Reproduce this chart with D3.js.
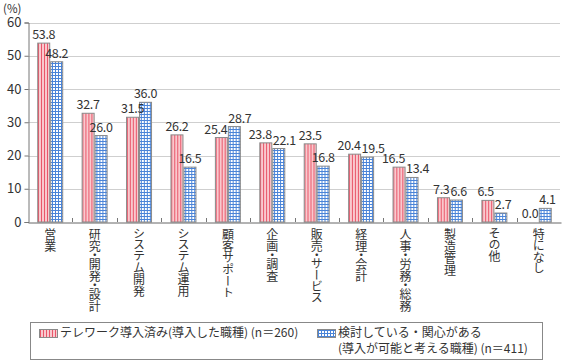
<!DOCTYPE html>
<html>
<head>
<meta charset="utf-8">
<script src="https://cdn.jsdelivr.net/npm/d3@7"></script>
<style>
  body { margin: 0; background: #fff; }
  text { font-family: "Noto Sans CJK JP", "Noto Sans", sans-serif; fill: #333; }
  .vlabel { writing-mode: vertical-rl; font-feature-settings: "vpal"; }
</style>
</head>
<body>
<div id="chart"></div>
<script>
// Data
const categories = ["営業", "研究・開発・設計", "システム開発", "システム運用", "顧客サポート", "企画・調査",
  "販売・サービス", "経理・会計", "人事・労務・総務", "製造管理", "その他", "特になし"];
const introduced = [53.8, 32.7, 31.5, 26.2, 25.4, 23.8, 23.5, 20.4, 16.5, 7.3, 6.5, 0.0];
const considering = [48.2, 26.0, 36.0, 16.5, 28.7, 22.1, 16.8, 19.5, 13.4, 6.6, 2.7, 4.1];
const yTicks = [0, 10, 20, 30, 40, 50, 60];
const seriesNames = ["introduced", "considering"];
const legendLabels = ["テレワーク導入済み(導入した職種) (n＝260)",
  ["検討している・関心がある", "(導入が可能と考える職種) (n＝411)"]];

const width = 564, height = 364;
const plot = { left: 28, right: 561, top: 22.5, bottom: 222 };

const svg = d3.select("#chart").append("svg")
    .attr("width", width)
    .attr("height", height);

// patterns for the two series
const defs = svg.append("defs");
const pRed = defs.append("pattern")
    .attr("id", "pat-red")
    .attr("patternUnits", "userSpaceOnUse")
    .attr("width", 3).attr("height", 3);
pRed.append("rect").attr("width", 3).attr("height", 3).attr("fill", "#f9c9ce");
pRed.append("rect").attr("x", 1).attr("width", 1).attr("height", 3).attr("fill", "#e9566a");

const pBlue = defs.append("pattern")
    .attr("id", "pat-blue")
    .attr("patternUnits", "userSpaceOnUse")
    .attr("width", 3).attr("height", 3);
pBlue.append("rect").attr("width", 3).attr("height", 3).attr("fill", "#4a84d8");
pBlue.append("rect").attr("x", 1).attr("y", 1).attr("width", 2).attr("height", 2).attr("fill", "#ffffff");

const color = d3.scaleOrdinal()
    .domain(seriesNames)
    .range(["url(#pat-red)", "url(#pat-blue)"]);

// scales
const x0 = d3.scaleBand()
    .domain(categories)
    .range([plot.left, plot.right])
    .padding(0);

const x1 = d3.scaleBand()
    .domain(seriesNames)
    .range([0, x0.bandwidth()])
    .paddingInner(0)
    .paddingOuter(0.71);

const y = d3.scaleLinear()
    .domain([0, 60])
    .range([plot.bottom, plot.top]);

// gridlines
svg.append("g")
    .selectAll("line")
    .data(yTicks.filter(d => d > 0))
    .enter().append("line")
    .attr("x1", plot.left)
    .attr("x2", plot.right - 1)
    .attr("y1", d => Math.round(y(d)) + 0.5)
    .attr("y2", d => Math.round(y(d)) + 0.5)
    .attr("stroke", "#cfcfcf")
    .attr("stroke-width", 1);

// y axis
const yAxis = svg.append("g")
    .attr("transform", "translate(" + (plot.left + 0.5) + ",0)")
    .call(d3.axisLeft(y).tickValues(yTicks).tickSize(4).tickPadding(3));
yAxis.select(".domain").attr("stroke", "#777");
yAxis.selectAll(".tick line").attr("stroke", "#777");
yAxis.selectAll(".tick text")
    .style("font-size", "13px")
    .attr("fill", "#333");

svg.append("text")
    .attr("x", 3)
    .attr("y", 13)
    .style("font-size", "11.5px")
    .text("(%)");

// bars
const rows = categories.map((c, i) => ({
  cat: c,
  values: [
    { key: "introduced", value: introduced[i] },
    { key: "considering", value: considering[i] }
  ]
}));

const groups = svg.append("g")
    .selectAll("g")
    .data(rows)
    .enter().append("g")
    .attr("transform", d => "translate(" + x0(d.cat) + ",0)");

groups.selectAll("rect")
    .data(d => d.values)
    .enter().append("rect")
    .attr("x", d => x1(d.key) + 0.5)
    .attr("y", d => y(d.value))
    .attr("width", x1.bandwidth() - 1)
    .attr("height", d => y(0) - y(d.value))
    .attr("fill", d => color(d.key))
    .attr("stroke", "#8a8a8a")
    .attr("stroke-width", 1);

// value labels, pushed apart when the pair would collide
groups.each(function(d) {
  const g = d3.select(this);
  const labels = d.values.map(v => g.append("text")
      .attr("class", "val")
      .attr("x", x1(v.key) + x1.bandwidth() / 2)
      .attr("y", y(v.value) - 4)
      .attr("text-anchor", "middle")
      .style("font-size", "12.5px")
      .style("letter-spacing", "-0.3px")
      .text(v.value.toFixed(1)));
  const w = labels.map(t => t.node().getComputedTextLength());
  const cx = d.values.map(v => x1(v.key) + x1.bandwidth() / 2);
  const dy = Math.abs(y(d.values[0].value) - y(d.values[1].value));
  const overlap = (cx[0] + w[0] / 2) - (cx[1] - w[1] / 2) + 1;
  if (dy < 14 && overlap > 0) {
    labels[0].attr("x", cx[0] - overlap / 2);
    labels[1].attr("x", cx[1] + overlap / 2);
  }
});

// x axis line and ticks at band edges
const xAxis = svg.append("g")
    .attr("transform", "translate(0," + (plot.bottom + 0.5) + ")")
    .call(d3.axisBottom(x0).tickSize(0).tickFormat(""));
xAxis.select(".domain").attr("stroke", "#666");

svg.append("g")
    .selectAll("line")
    .data(categories.slice(1))
    .enter().append("line")
    .attr("x1", d => Math.round(x0(d)) + 0.5)
    .attr("x2", d => Math.round(x0(d)) + 0.5)
    .attr("y1", plot.bottom)
    .attr("y2", plot.bottom - 4)
    .attr("stroke", "#777");

// vertical category labels
svg.append("g")
    .selectAll("text")
    .data(categories)
    .enter().append("text")
    .attr("class", "vlabel")
    .attr("x", d => x0(d) + x0.bandwidth() / 2)
    .attr("y", plot.bottom + 6)
    .style("font-size", "12px")
    .text(d => d);

// legend
const legend = svg.append("g");
legend.append("rect")
    .attr("x", 30.5)
    .attr("y", 322.5)
    .attr("width", 512)
    .attr("height", 37)
    .attr("fill", "#fff")
    .attr("stroke", "#888");

const legendX = [39, 317];
seriesNames.forEach((s, i) => {
  legend.append("rect")
      .attr("x", legendX[i] + 0.5)
      .attr("y", 329.5)
      .attr("width", 18)
      .attr("height", 8)
      .attr("fill", color(s))
      .attr("stroke", "#8a8a8a");
  const lines = [].concat(legendLabels[i]);
  lines.forEach((t, j) => {
    legend.append("text")
        .attr("x", legendX[i] + 21)
        .attr("y", 337 + j * 15.5)
        .style("font-size", "12px")
        .text(t);
  });
});
</script>
</body>
</html>
